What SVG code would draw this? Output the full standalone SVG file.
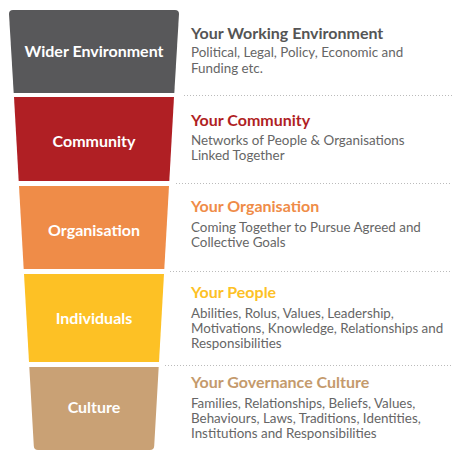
<svg xmlns="http://www.w3.org/2000/svg" width="460" height="460" viewBox="0 0 460 460">
<style>
.lbl{font-family:Lato,"Open Sans",sans-serif;font-weight:bold;font-size:16px;fill:#fff;text-anchor:middle}
.ttl{font-family:Lato,"Open Sans",sans-serif;font-weight:bold;font-size:16px}
.body{font-family:Lato,"Open Sans",sans-serif;font-size:13.4px;fill:#666}
.sep{stroke:#bbb;stroke-width:1;stroke-dasharray:1 2;fill:none}
</style>
<rect width="460" height="460" fill="#fff"/>
<g id="wider">
<path d="M13.7,93 L9,14 Q9,10 13,10 L175,10 Q179,10 179,14 L174.3,93 Z" fill="#58585a"/>
<text class="lbl" x="94" y="57">Wider Environment</text>
<text class="ttl" x="191" y="39" fill="#555">Your Working Environment</text>
<text class="body" x="191" y="57">Political, Legal, Policy, Economic and</text>
<text class="body" x="191" y="73">Funding etc.</text>
</g>
<g id="community">
<polygon points="14,97 174,97 169.3,181 18.7,181" fill="#b01f24"/>
<text class="lbl" x="94" y="147">Community</text>
<text class="ttl" x="191" y="126" fill="#b01f24">Your Community</text>
<text class="body" x="191" y="145">Networks of People &amp; Organisations</text>
<text class="body" x="191" y="160">Linked Together</text>
</g>
<g id="organisation">
<polygon points="19,186 169,186 164.3,269 23.7,269" fill="#ef8c48"/>
<text class="lbl" x="94" y="236">Organisation</text>
<text class="ttl" x="191" y="212" fill="#ef8c48">Your Organisation</text>
<text class="body" x="191" y="232">Coming Together to Pursue Agreed and</text>
<text class="body" x="191" y="247">Collective Goals</text>
</g>
<g id="individuals">
<polygon points="24,274 164,274 159,362 29,362" fill="#fdc125"/>
<text class="lbl" x="94" y="324">Individuals</text>
<text class="ttl" x="191" y="298" fill="#fdc125">Your People</text>
<text class="body" x="191" y="318">Abilities, Rolus, Values, Leadership,</text>
<text class="body" x="191" y="333">Motivations, Knowledge, Relationships and</text>
<text class="body" x="191" y="348">Responsibilities</text>
</g>
<g id="culture">
<path d="M29.3,367 L158.7,367 L154.2,446 Q154,450 150,450 L38,450 Q34,450 33.8,446 Z" fill="#c9a175"/>
<text class="lbl" x="94" y="413">Culture</text>
<text class="ttl" x="191" y="388" fill="#c49a6c">Your Governance Culture</text>
<text class="body" x="191" y="408">Families, Relationships, Beliefs, Values,</text>
<text class="body" x="191" y="423">Behaviours, Laws, Traditions, Identities,</text>
<text class="body" x="191" y="438">Institutions and Responsibilities</text>
</g>
<g id="connectors">
<line class="sep" x1="184" y1="95.5" x2="452" y2="95.5"/>
<line class="sep" x1="176" y1="183.5" x2="452" y2="183.5"/>
<line class="sep" x1="170" y1="271.5" x2="452" y2="271.5"/>
<line class="sep" x1="165" y1="365.5" x2="452" y2="365.5"/>
</g>
</svg>
